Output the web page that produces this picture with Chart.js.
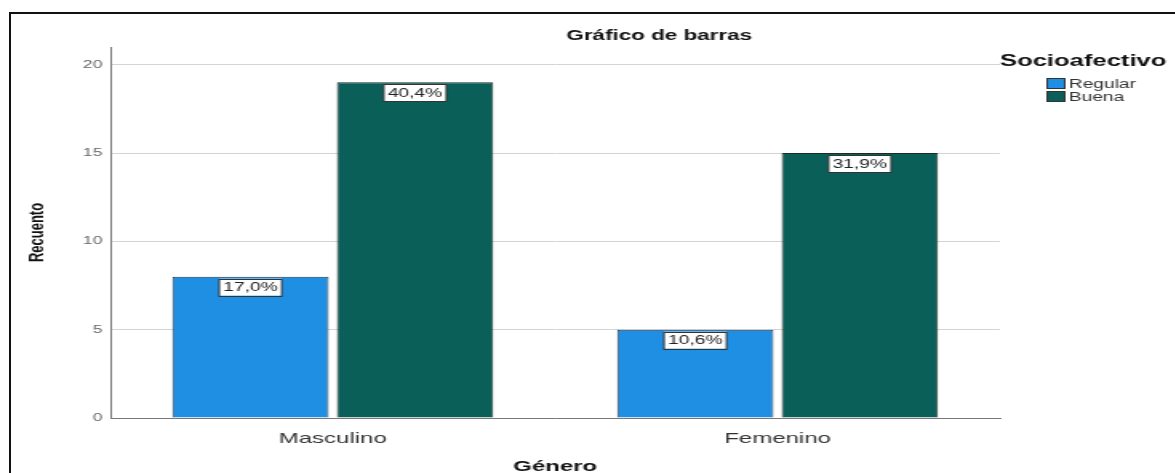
<!DOCTYPE html>
<html>
<head>
<meta charset="utf-8">
<script src="https://cdn.jsdelivr.net/npm/chart.js@4.4.1/dist/chart.umd.min.js"></script>
<style>
  body { margin: 0; background: #fff; overflow: hidden; }
  #frame { position: absolute; left: 9px; top: 12px; width: 1200px; height: 500px;
           border-left: 2px solid #111; border-top: 2px solid #111; }
  /* el grafico original esta estirado en horizontal */
  canvas { position: absolute; left: 0; top: 0; transform: scaleX(1.6); transform-origin: 0 0; }
</style>
</head>
<body>
<div id="frame"></div>
<canvas id="barras" width="735" height="473"></canvas>
<script>
  // datos
  const generos = ['Masculino', 'Femenino'];
  const regular = [8, 5];
  const buena = [19, 15];
  const pctRegular = ['17,0%', '10,6%'];
  const pctBuena = ['40,4%', '31,9%'];
  const seriesNames = ['Regular', 'Buena'];
  const colores = ['#1f8fe3', '#0b5f59'];
  const fam = '"Liberation Sans", Arial, sans-serif';

  const etiquetas = {
    id: 'etiquetas',
    afterDatasetsDraw(chart) {
      const ctx = chart.ctx;
      const pcts = [pctRegular, pctBuena];
      ctx.save();
      ctx.font = '12px ' + fam;
      ctx.textAlign = 'center';
      ctx.textBaseline = 'middle';
      chart.data.datasets.forEach((ds, i) => {
        chart.getDatasetMeta(i).data.forEach((bar, j) => {
          const txt = pcts[i][j];
          const w = ctx.measureText(txt).width + 5;
          const h = 17;
          const x = bar.x - w / 2;
          const y = bar.y + 2;
          ctx.fillStyle = '#fff';
          ctx.fillRect(x, y, w, h);
          ctx.strokeStyle = '#333';
          ctx.lineWidth = 1;
          ctx.strokeRect(x, Math.round(y) + 0.5, w, h);
          ctx.fillStyle = '#222';
          ctx.fillText(txt, bar.x, y + h / 2 + 1);
        });
      });

      // titulo
      ctx.font = 'bold 14px ' + fam;
      ctx.fillStyle = '#111';
      ctx.fillText('Gráfico de barras', 412, 36);

      // leyenda
      ctx.textAlign = 'left';
      ctx.font = 'bold 16px ' + fam;
      ctx.fillText('Socioafectivo', 625, 62);
      ctx.font = '12px ' + fam;
      seriesNames.forEach((n, i) => {
        const y = 78 + i * 13;
        ctx.fillStyle = colores[i];
        ctx.fillRect(654.5, y, 11, 11);
        ctx.strokeStyle = '#333';
        ctx.strokeRect(654.5, y + 0.5, 11, 10);
        ctx.fillStyle = '#333';
        ctx.fillText(n, 668, y + 7);
      });
      ctx.restore();
    }
  };

  new Chart(document.getElementById('barras'), {
    type: 'bar',
    data: {
      labels: generos,
      datasets: [
        { label: seriesNames[0], data: regular, backgroundColor: colores[0], borderColor: '#22384e', borderWidth: 1 },
        { label: seriesNames[1], data: buena, backgroundColor: colores[1], borderColor: '#1b2b29', borderWidth: 1 }
      ]
    },
    options: {
      responsive: false,
      animation: false,
      categoryPercentage: 0.74,
      barPercentage: 0.95,
      layout: { padding: { left: 0, right: 110, top: 47, bottom: 0 } },
      plugins: {
        legend: { display: false },
        title: { display: false },
        tooltip: { enabled: false }
      },
      scales: {
        x: {
          grid: { display: false },
          border: { color: '#777' },
          ticks: { color: '#333', font: { size: 15, family: fam }, padding: 4 },
          title: { display: true, text: 'Género', color: '#111',
                   font: { size: 15, weight: 'bold', family: fam }, padding: { top: 0, bottom: -3 } },
          afterFit(scale) { scale.height = 55; }
        },
        y: {
          min: 0,
          max: 21,
          ticks: { stepSize: 5, includeBounds: false, color: '#666', padding: 5,
                   font: { size: 11, family: fam } },
          grid: { color: '#d4d4d4', drawTicks: false },
          border: { color: '#777' },
          title: { display: true, text: 'Recuento', color: '#111',
                   font: { size: 13, weight: 'bold', family: fam }, padding: { top: 16 } },
          afterFit(scale) { scale.width = 69; }
        }
      }
    },
    plugins: [etiquetas]
  });
</script>
</body>
</html>
